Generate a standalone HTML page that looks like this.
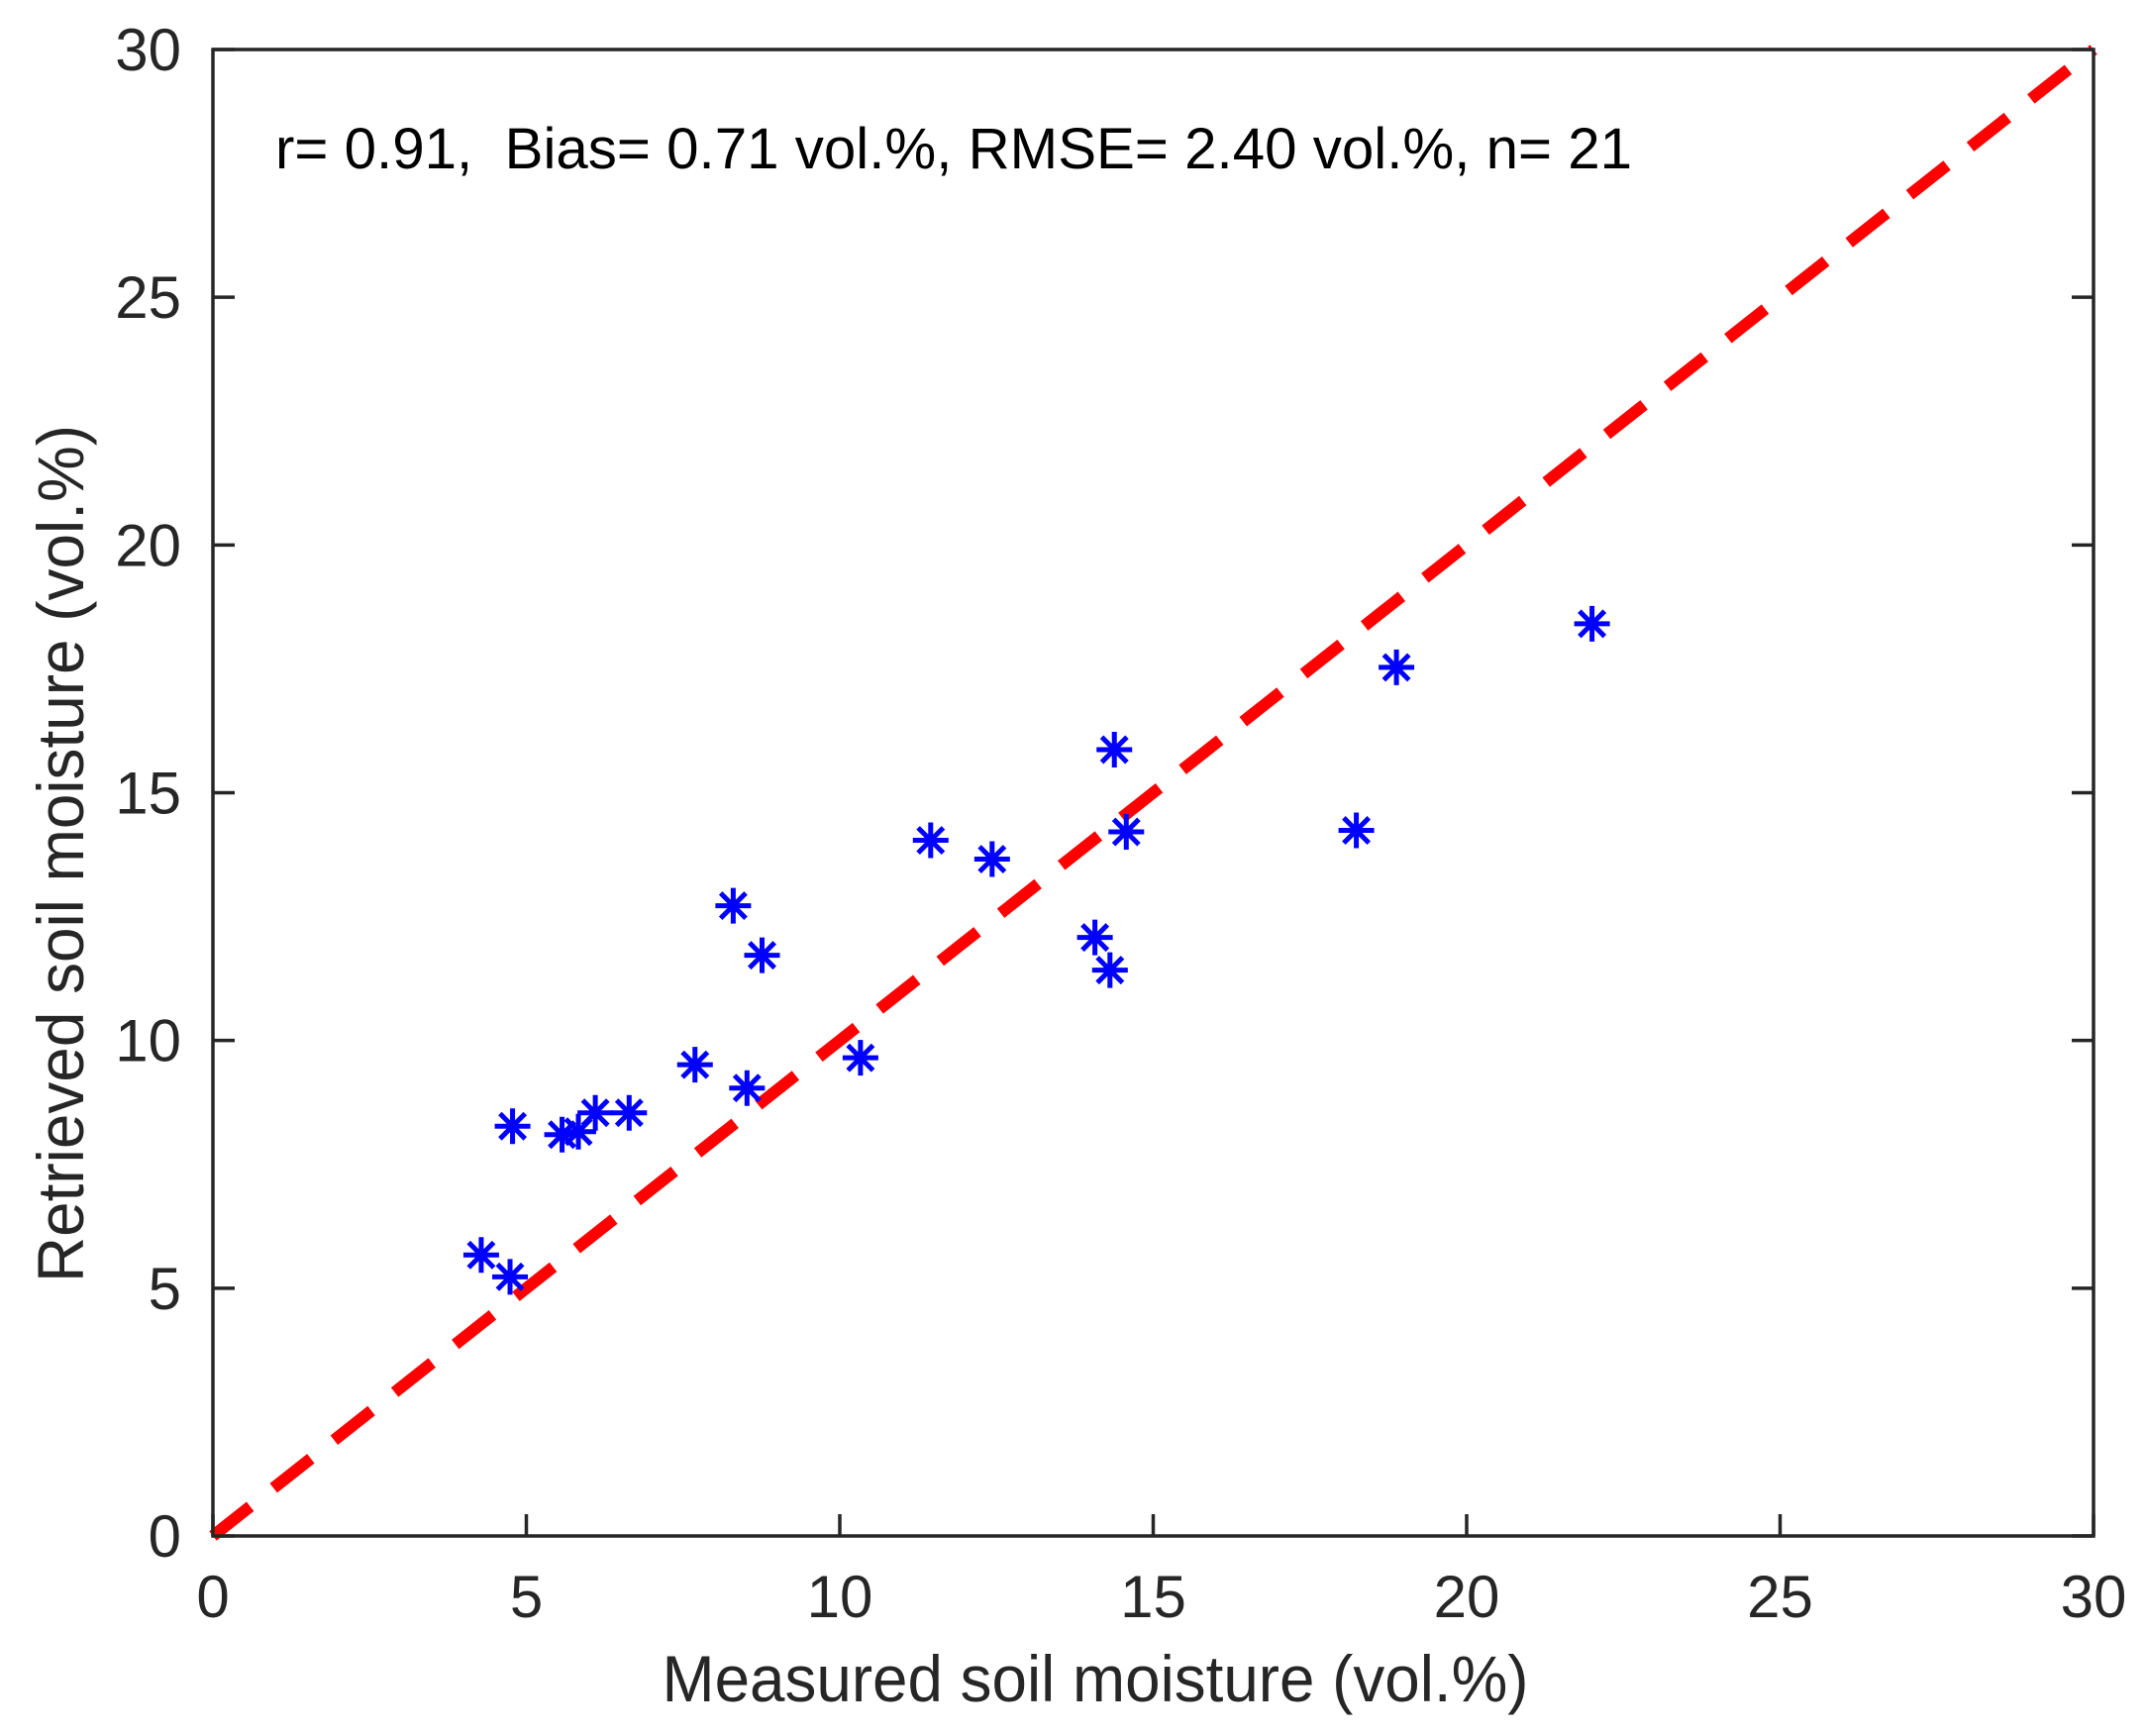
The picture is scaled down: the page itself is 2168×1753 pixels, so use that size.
<!DOCTYPE html>
<html><head><meta charset="utf-8"><style>html,body{margin:0;padding:0;background:#fff}svg{display:block}</style></head>
<body>
<svg id="chart" width="2168" height="1753" viewBox="0 0 2168 1753" xmlns="http://www.w3.org/2000/svg" font-family="'Liberation Sans', sans-serif">
<rect width="2168" height="1753" fill="#fff"/>
<g id="plot"></g>
</svg>
<script>
const measured = [4.28,4.74,4.78,5.57,5.83,6.10,6.64,7.69,8.52,8.30,8.76,10.33,11.45,12.43,14.07,14.31,14.38,14.57,18.24,18.88,22.0];
const retrieved = [5.67,5.23,8.27,8.10,8.16,8.54,8.54,9.51,9.04,12.72,11.72,9.65,14.04,13.66,12.08,11.42,15.87,14.21,14.24,17.53,18.41];
const xTicks = [0,5,10,15,20,25,30];
const yTicks = [0,5,10,15,20,25,30];
const refLine = [0,30];

const L=215,R=2114,T=50,B=1551,xmin=0,xmax=30,ymin=0,ymax=30;
const sx=v=>L+(v-xmin)/(xmax-xmin)*(R-L);
const sy=v=>B-(v-ymin)/(ymax-ymin)*(B-T);
const NS='http://www.w3.org/2000/svg';
const g=document.getElementById('plot');
function mk(tag,attrs,parent){const e=document.createElementNS(NS,tag);for(const k in attrs)e.setAttribute(k,attrs[k]);(parent||g).appendChild(e);return e;}

// ticks
xTicks.forEach(t=>{
  const x=sx(t);
  const tk=mk('path',{d:`M${x},${B}V${B-22}`,stroke:'#262626','stroke-width':3.5,fill:'none'});
  
  
  const lb=mk('text',{x:x,y:1633,'font-size':60,'text-anchor':'middle',fill:'#262626'});
  lb.textContent=t;
  
  
});
yTicks.forEach(t=>{
  const y=sy(t);
  const tk=mk('path',{d:`M${L},${y}H${L+22}M${R},${y}H${R-22}`,stroke:'#262626','stroke-width':3.5,fill:'none'});
  
  
  const lb=mk('text',{x:183,y:y+21,'font-size':60,'text-anchor':'end',fill:'#262626'});
  lb.textContent=t;
  
  
});

// reference 1:1 line
const ref=mk('line',{x1:sx(refLine[0]),y1:sy(refLine[0]),x2:sx(refLine[1]),y2:sy(refLine[1]),stroke:'#ff0000','stroke-width':12,'stroke-dasharray':'48 30'});



// points
measured.forEach((m,i)=>{
  const x=sx(m),y=sy(retrieved[i]),a=18,d=12.7;
  const p=mk('path',{d:`M${x-a},${y}H${x+a}M${x},${y-a}V${y+a}M${x-d},${y-d}L${x+d},${y+d}M${x-d},${y+d}L${x+d},${y-d}`,stroke:'#0000ff','stroke-width':5,fill:'none'});
  
  
});

// axes box
const box=mk('rect',{x:L,y:T,width:R-L,height:B-T,fill:'none',stroke:'#262626','stroke-width':3.5});



const ann=mk('text',{x:278,y:170,'font-size':58,fill:'#000',textLength:1370,lengthAdjust:'spacingAndGlyphs'});
ann.textContent='r= 0.91,\u00a0 Bias= 0.71 vol.%, RMSE= 2.40 vol.%, n= 21';



const xl=mk('text',{x:1106,y:1718,'font-size':66,'text-anchor':'middle',fill:'#262626',textLength:875,lengthAdjust:'spacingAndGlyphs'});
xl.textContent='Measured soil moisture (vol.%)';



const yl=mk('text',{x:0,y:0,'font-size':66,'text-anchor':'middle',fill:'#262626',textLength:866,lengthAdjust:'spacingAndGlyphs',transform:'translate(84,862) rotate(-90)'});
yl.textContent='Retrieved soil moisture (vol.%)';


</script>
</body></html>
